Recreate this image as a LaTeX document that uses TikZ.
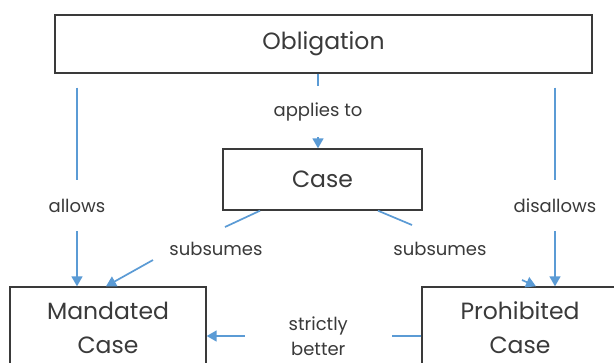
\documentclass[tikz,border=0pt]{standalone}
\usepackage{fontspec}
\setmainfont{Poppins}
\usetikzlibrary{arrows.meta}
\definecolor{linkblue}{HTML}{5B9BD5}
\definecolor{inkgray}{HTML}{3A3A3A}
\tikzset{
  box/.style={draw=inkgray, line width=1.4pt, fill=white, text=inkgray, font=\fontsize{23.5}{34}\selectfont, align=center, inner sep=0pt},
  link/.style={draw=linkblue, line width=1.7pt},
  arrowlink/.style={link, -{Triangle[length=10pt,width=11pt]}},
  lbl/.style={fill=white, text=inkgray, font=\fontsize{18}{25}\selectfont, align=center, inner sep=0pt},
}
\begin{document}
\begin{tikzpicture}[x=1pt,y=-1pt]
\useasboundingbox (0,0) rectangle (614,362);
\clip (0,0) rectangle (614,362);
\fill[white] (0,0) rectangle (614,362);
% nodes
\node[box, minimum width=537pt, minimum height=58pt] (obl) at (323.5,44) {Obligation};
\node[box, minimum width=199pt, minimum height=61pt] (case) at (322.5,179.5) {Case};
\node[box, minimum width=196pt, minimum height=81pt] (mand) at (108,327.5) {Mandated\\Case};
\node[box, minimum width=196pt, minimum height=81pt] (proh) at (520,327.5) {Prohibited\\Case};
% allows
\draw[arrowlink, shorten <=14pt] (obl.south -| 77,0) -- node[lbl, pos=0.62, minimum height=51pt, minimum width=62pt] {allows} (mand.north -| 77,0);
% disallows
\draw[arrowlink, shorten <=14pt] (obl.south -| 555,0) -- node[lbl, pos=0.62, minimum height=51pt, minimum width=86pt] {disallows} (proh.north -| 555,0);
% applies to
\draw[arrowlink] (obl.south -| 318,0) -- node[lbl, pos=0.51, minimum height=51pt, minimum width=100pt] {applies to} (case.north -| 318,0);
% subsumes left
\coordinate (sl1) at (225,227);
\coordinate (sl2) at (153,260);
\draw[link] (case.south -| 260,0) -- (sl1);
\draw[arrowlink] (sl2) -- (mand.north -| 106,0);
\node[lbl] (subl) at (216,249) {subsumes};
% subsumes right
\coordinate (sr1) at (412,225);
\coordinate (sr2) at (522,280);
\draw[link] (case.south -| 378,0) -- (sr1);
\draw[arrowlink] (sr2) -- (proh.north -| 536,0);
\node[lbl] (subr) at (440,249) {subsumes};
% strictly better
\draw[arrowlink] (proh.west |- 0,336) -- node[lbl, pos=0.48, minimum width=147pt, minimum height=40pt] {strictly\\better} (mand.east |- 0,336);
\end{tikzpicture}
\end{document}
